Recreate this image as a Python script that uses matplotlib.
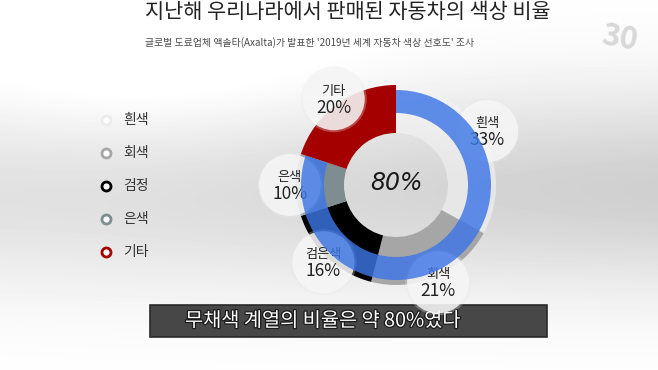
import numpy as np
import matplotlib
matplotlib.use("Agg")
import matplotlib.pyplot as plt
import matplotlib.patheffects as pe
from matplotlib.patches import Circle, Rectangle

plt.rcParams["font.family"] = ["Noto Sans CJK KR", "DejaVu Sans"]

# 데이터
categories = ["흰색", "회색", "검정", "은색", "기타"]
bubble_labels = ["흰색", "회색", "검은색", "은색", "기타"]
shares = [33, 21, 16, 10, 20]
achromatic = [80, 20]  # 무채색 계열 vs 기타

title = "지난해 우리나라에서 판매된 자동차의 색상 비율"
subtitle = "글로벌 도료업체 액솔타(Axalta)가 발표한 '2019년 세계 자동차 색상 선호도' 조사"
caption = "무채색 계열의 비율은 약 80%였다"

SEG_COLORS = ["#f4f4f4", "#a6a6a6", "#000000", "#7d8d91", "#a50000"]
LEGEND_COLORS = ["#ececec", "#a6a6a6", "#000000", "#7d8d91", "#a50000"]
BLUE = "#3d76e6"

W, H = 658, 370
fig = plt.figure(figsize=(W / 100, H / 100), dpi=100)

# 배경 (회색 그라데이션)
bg = fig.add_axes([0, 0, 1, 1])
yy, xx = np.mgrid[0:H, 0:W]
band = np.exp(-((yy - 190) / 100.0) ** 2)
side = 0.75 + 0.35 * (xx / W)
spot = np.exp(-(((xx - 150) / 200.0) ** 2 + ((yy - 60) / 120.0) ** 2))
val = 1 - 0.17 * band * side + 0.06 * spot
val = np.clip(val, 0, 1)
bg.imshow(val, cmap="gray", vmin=0, vmax=1, extent=[0, W, H, 0], aspect="auto")
bg.set_xlim(0, W)
bg.set_ylim(H, 0)
bg.axis("off")

bg.text(348, 11.5, title, ha="center", va="center", fontsize=15, color="#222222")
bg.text(310, 43, subtitle, ha="center", va="center", fontsize=7.1, color="#4a4a4a")
bg.text(620, 38, "30", ha="center", va="center", fontsize=22, weight="bold",
        color="#d8d8d8", rotation=-10)

# 범례
for i, (name, col) in enumerate(zip(categories, LEGEND_COLORS)):
    y = 120 + i * 33
    bg.plot(106, y, "o", ms=6.5, mfc="white", mec=col, mew=2.0)
    bg.text(123, y, name, ha="left", va="center", fontsize=10, color="#333333")

# 하단 자막
bg.add_patch(Rectangle((150, 305), 397, 32, facecolor="#474747",
                       edgecolor="#2a2a2a", lw=1.2))
bg.text(185, 321, caption, ha="left", va="center", fontsize=14.2, color="white",
        path_effects=[pe.withStroke(linewidth=1.8, foreground="#1a1a1a")])

# 도넛 차트
cx, cy, half = 396, 185, 140
dax = fig.add_axes([(cx - half) / W, (H - cy - half) / H, 2 * half / W, 2 * half / H])
wedges, _ = dax.pie(shares, radius=100, startangle=90, counterclock=False,
                    colors=SEG_COLORS, wedgeprops=dict(width=48, linewidth=0))
wedges[0].set_alpha(0.6)

# 라벨 말풍선
total = sum(shares)
cum = np.cumsum(shares)
mids = (cum - np.array(shares) / 2) / total * 2 * np.pi
for lab, s, th in zip(bubble_labels, shares, mids):
    bx, by = 106 * np.sin(th), 106 * np.cos(th)
    dax.add_patch(Circle((bx, by), 33, facecolor="#e8e8e8", edgecolor="none",
                         alpha=0.3, zorder=3))
    dax.add_patch(Circle((bx, by), 31, facecolor="#f6f6f6", edgecolor="none",
                         alpha=0.85, zorder=3))
    dax.text(bx, by + 8, lab, ha="center", va="center", fontsize=9.5,
             color="#222222", zorder=4)
    dax.text(bx, by - 9, f"{s}%", ha="center", va="center", fontsize=12.5,
             color="#222222", zorder=4)

# 무채색 계열 강조 링
blue, _ = dax.pie(achromatic, radius=95, startangle=90, counterclock=False,
                  colors=[BLUE, "none"], wedgeprops=dict(width=23, linewidth=0))
blue[0].set_alpha(0.82)
blue[0].set_zorder(5)
blue[1].set_visible(False)

dax.text(0, 2, f"{achromatic[0]}%", ha="center", va="center", fontsize=17,
         style="italic", family="DejaVu Sans", color="#1a1a1a", zorder=6)
dax.set_xlim(-half, half)
dax.set_ylim(-half, half)
dax.set_aspect("equal")
dax.axis("off")

fig.savefig("out.png", dpi=100)
